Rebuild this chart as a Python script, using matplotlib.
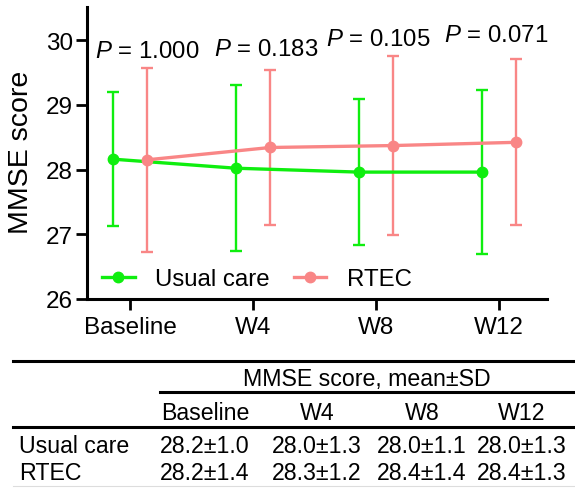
import matplotlib
matplotlib.use('Agg')
import matplotlib.pyplot as plt
from matplotlib.lines import Line2D
import numpy as np

plt.rcParams['font.family'] = ['Liberation Sans', 'DejaVu Sans']
plt.rcParams['mathtext.fontset'] = 'custom'
plt.rcParams['mathtext.it'] = 'Liberation Sans:italic'
plt.rcParams['mathtext.rm'] = 'Liberation Sans'

# data
timepoints = ['Baseline', 'W4', 'W8', 'W12']
usual_mean = [28.16, 28.02, 27.96, 27.96]
usual_sd = [1.04, 1.28, 1.13, 1.27]
rtec_mean = [28.15, 28.34, 28.37, 28.42]
rtec_sd = [1.42, 1.19, 1.38, 1.28]
p_values = ['1.000', '0.183', '0.105', '0.071']
p_ypos = [29.83, 29.86, 30.02, 30.08]

usual_txt = ['28.2±1.0', '28.0±1.3', '28.0±1.1', '28.0±1.3']
rtec_txt = ['28.2±1.4', '28.3±1.2', '28.4±1.4', '28.4±1.3']

green = '#0fee0f'
red = '#f98686'

W, H = 575, 489
fig = plt.figure(figsize=(W / 100, H / 100), dpi=100)
ax = fig.add_axes([87 / W, 1 - 300 / H, 460 / W, 292 / H])

x = np.arange(len(timepoints))
xg = x - 0.14
xr = x + 0.14

ax.errorbar(xg, usual_mean, yerr=usual_sd, fmt='none', ecolor=green,
            elinewidth=1.7, capsize=4.5, capthick=1.7, zorder=2)
ax.errorbar(xr, rtec_mean, yerr=rtec_sd, fmt='none', ecolor=red,
            elinewidth=1.7, capsize=4.5, capthick=1.7, zorder=2)
ax.plot(xg, usual_mean, '-o', color=green, lw=2.4, ms=7.5, label='Usual care', zorder=3)
ax.plot(xr, rtec_mean, '-o', color=red, lw=2.4, ms=7.5, label='RTEC', zorder=4)

p_x = [0.14, 1.11, 2.02, 2.98]
for i, p in enumerate(p_values):
    ax.text(p_x[i], p_ypos[i], r'$P$ = ' + p, ha='center', va='center', fontsize=17.3)

ax.set_xlim(-0.35, 3.39)
ax.set_ylim(26, 30.51)
ax.set_yticks([26, 27, 28, 29, 30])
ax.set_xticks(x)
ax.set_xticklabels(timepoints)
ax.tick_params(labelsize=17.5, width=2, length=8)
ax.tick_params(axis='y', pad=2)
ax.tick_params(axis='x', pad=4)
for s in ['top', 'right']:
    ax.spines[s].set_visible(False)
for s in ['left', 'bottom']:
    ax.spines[s].set_linewidth(2.2)

ax.legend(loc='center left', bbox_to_anchor=(0.033, 0.068), ncol=2, frameon=False,
          fontsize=17.3, handlelength=1.35, handletextpad=0.85, columnspacing=1.0,
          borderpad=0, borderaxespad=0)

fig.text(21 / W, 1 - 152 / H, 'MMSE score', rotation=90, ha='center', va='center',
         fontsize=20.5)

# table below the chart
def px(xp, yp):
    return xp / W, 1 - yp / H

def hline(x0, x1, y, lw=2.2, color='black'):
    fig.add_artist(Line2D([x0 / W, x1 / W], [1 - y / H, 1 - y / H], lw=lw,
                          color=color, transform=fig.transFigure))

hline(13, 575, 362)
hline(160, 575, 393)
hline(13, 575, 428)
hline(13, 575, 487, lw=0.8, color='#dddddd')

fs = 16.7
fig.text(*px(367, 386), 'MMSE score, mean±SD', ha='center', va='baseline', fontsize=fs)
col_x = [205, 317, 422, 522]
for cx, t in zip(col_x, timepoints):
    fig.text(*px(cx, 420), t, ha='center', va='baseline', fontsize=fs)
fig.text(*px(19, 453), 'Usual care', ha='left', va='baseline', fontsize=fs)
fig.text(*px(19, 480), 'RTEC', ha='left', va='baseline', fontsize=fs)
for cx, a, b in zip(col_x, usual_txt, rtec_txt):
    fig.text(*px(cx, 453), a, ha='center', va='baseline', fontsize=fs)
    fig.text(*px(cx, 480), b, ha='center', va='baseline', fontsize=fs)

fig.savefig('out.png', dpi=100)
